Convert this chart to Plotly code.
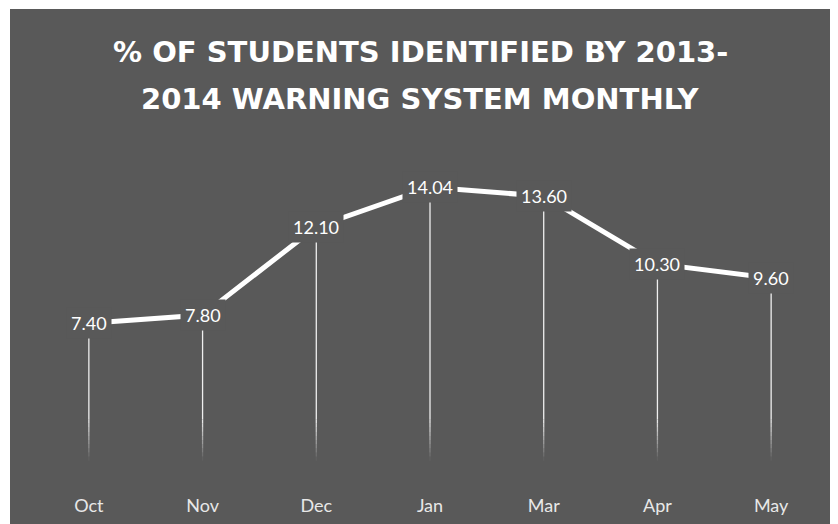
import plotly.graph_objects as go

months = ["Oct", "Nov", "Dec", "Jan", "Mar", "Apr", "May"]
pct_identified = [7.40, 7.80, 12.10, 14.04, 13.60, 10.30, 9.60]

BG = "#595959"
# the page puts the figure 8px in from the corner, so size it to fit
W, H = 830, 516
M_L, M_R, M_T, M_B = 24, 10, 122, 49
PLOT_W = W - M_L - M_R
PLOT_H = H - M_T - M_B

fig = go.Figure()

# drop lines, fading out towards the axis
fade_lo, fade_hi, steps = 0.7, 2.7, 10
edges = [fade_lo + (fade_hi - fade_lo) * i / steps for i in range(steps + 1)]
xs, ys = [], []
for m, v in zip(months, pct_identified):
    xs += [m, m, None]
    ys += [v, fade_hi, None]
fig.add_trace(go.Scatter(x=xs, y=ys, mode="lines", hoverinfo="skip",
                         line=dict(color="rgba(255,255,255,0.9)", width=1.3)))
for i in range(steps):
    lo, hi = edges[i], edges[i + 1]
    alpha = 0.9 * (i + 0.5) / steps
    xs, ys = [], []
    for m, v in zip(months, pct_identified):
        xs += [m, m, None]
        ys += [hi, lo, None]
    fig.add_trace(go.Scatter(x=xs, y=ys, mode="lines", hoverinfo="skip",
                             line=dict(color=f"rgba(255,255,255,{alpha:.3f})", width=1.3)))

# main line
fig.add_trace(go.Scatter(x=months, y=pct_identified, mode="lines",
                         line=dict(color="white", width=5)))

# value labels with background boxes covering the line
for m, v in zip(months, pct_identified):
    fig.add_annotation(x=m, y=v, xref="x", yref="y", text=f"{v:.2f}",
                       showarrow=False, bgcolor=BG, borderpad=4,
                       font=dict(family="Lato", size=18, color="white"))

# title, two lines
title_lines = ["% OF STUDENTS IDENTIFIED BY 2013-", "2014 WARNING SYSTEM MONTHLY"]
for line, ypx in zip(title_lines, [44, 91]):
    fig.add_annotation(x=(412 - M_L) / PLOT_W, y=(H - M_B - ypx) / PLOT_H,
                       xref="paper", yref="paper", text=line, showarrow=False,
                       xanchor="center", yanchor="middle",
                       font=dict(family="DejaVu Sans", size=29, color="white", weight="bold"))

# gray card background
fig.add_shape(type="rect", xref="paper", yref="paper", layer="below",
              x0=(2 - M_L) / PLOT_W, x1=(828 - M_L) / PLOT_W,
              y0=(H - M_B - H) / PLOT_H, y1=(H - M_B - 1) / PLOT_H,
              fillcolor=BG, line=dict(width=0))

fig.update_layout(
    width=W, height=H,
    margin=dict(l=M_L, r=M_R, t=M_T, b=M_B, autoexpand=False),
    paper_bgcolor="white",
    plot_bgcolor="rgba(0,0,0,0)",
    showlegend=False,
    xaxis=dict(range=[-0.5, 6.5], showgrid=False, zeroline=False, showline=False,
               ticks="outside", ticklen=14, tickcolor="rgba(0,0,0,0)",
               tickfont=dict(family="Lato", size=18, color="#e8e8e8")),
    yaxis=dict(range=[0, 16.83], showgrid=False, zeroline=False,
               showticklabels=False, showline=False, fixedrange=True),
)

fig.write_html("out.html")
